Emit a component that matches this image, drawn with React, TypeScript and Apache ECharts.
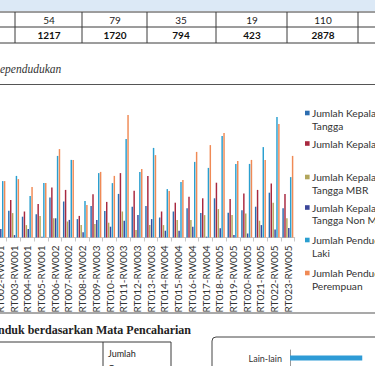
import React, { useEffect, useRef } from "react";
import * as echarts from "echarts";

const categories = [
  "RT001-RW001", "RT002-RW001", "RT003-RW001", "RT004-RW001", "RT005-RW001",
  "RT006-RW002", "RT007-RW002", "RT008-RW002",
  "RT009-RW003", "RT010-RW003", "RT011-RW003", "RT012-RW003", "RT013-RW003",
  "RT014-RW004", "RT015-RW004", "RT016-RW004", "RT017-RW004",
  "RT018-RW005", "RT019-RW005", "RT020-RW005", "RT021-RW005", "RT022-RW005", "RT023-RW005",
];

const kepalaRumahTangga = [81, 81, 67, 52, 58, 100, 90, 46, 79, 66, 109, 77, 79, 50, 65, 73, 61, 98, 62, 68, 77, 112, 73];
const kepalaKeluarga = [104, 106, 94, 65, 84, 125, 119, 54, 108, 89, 161, 117, 154, 65, 87, 102, 98, 137, 96, 110, 119, 135, 109];
const krtMBR = [39, 44, 61, 31, 54, 48, 40, 31, 34, 37, 65, 19, 31, 31, 44, 44, 56, 71, 56, 60, 42, 87, 48];
const krtNonMBR = [24, 21, 6, 21, 2, 48, 44, 13, 44, 27, 42, 56, 46, 17, 17, 27, 2, 23, 6, 10, 31, 20, 24];
const pendudukLaki = [144, 141, 154, 104, 136, 204, 194, 91, 161, 136, 246, 164, 224, 121, 139, 189, 174, 254, 184, 184, 226, 301, 151];
const pendudukPerempuan = [149, 141, 146, 126, 136, 221, 194, 81, 164, 154, 306, 171, 206, 116, 144, 214, 231, 261, 191, 194, 194, 284, 204];

const seriesNames = [
  "Jumlah Kepala Rumah Tangga",
  "Jumlah Kepala Keluarga",
  "Jumlah Kepala Rumah Tangga MBR",
  "Jumlah Kepala Rumah Tangga Non MBR",
  "Jumlah Penduduk Laki-Laki",
  "Jumlah Penduduk Perempuan",
];
const legendLines = [
  ["Jumlah Kepala Rumah", "Tangga"],
  ["Jumlah Kepala Keluarga"],
  ["Jumlah Kepala Rumah", "Tangga MBR"],
  ["Jumlah Kepala Rumah", "Tangga Non MBR"],
  ["Jumlah Penduduk Laki-", "Laki"],
  ["Jumlah Penduduk", "Perempuan"],
];
const seriesColors = ["#2c6db0", "#a8283f", "#b2a65c", "#3b4699", "#2a9fd0", "#f08a55"];

const tableRow1 = [54, 79, 35, 19, 110];
const tableRow2 = [1217, 1720, 794, 423, 2878];

const occupationCategories = ["Lain-lain"];
const occupationValues = [850];

// the chart canvas starts 21px left of the visible page (first category is off-page)
const OX = 21;

export default function App() {
  const ref = useRef<HTMLDivElement>(null);

  useEffect(() => {
    if (!ref.current) return;
    const chart = echarts.init(ref.current, undefined, { renderer: "svg" });
    const seriesData = [kepalaRumahTangga, kepalaKeluarga, krtMBR, krtNonMBR, pendudukLaki, pendudukPerempuan];

    const g: any[] = [];
    const lineStroke = "#3a3a3a";
    g.push({ type: "rect", silent: true, shape: { x: 0, y: 0, width: 375 + OX, height: 11 }, style: { fill: "#dce9f6" } });
    [12, 27, 43].forEach((y) =>
      g.push({ type: "line", silent: true, shape: { x1: 0, y1: y, x2: 375 + OX, y2: y }, style: { stroke: lineStroke, lineWidth: 1 } })
    );
    [15, 82, 147, 216, 287, 358].forEach((x) =>
      g.push({ type: "line", silent: true, shape: { x1: x + OX, y1: 12, x2: x + OX, y2: 43 }, style: { stroke: lineStroke, lineWidth: 1 } })
    );
    const colX = [49, 115, 181, 252, 323];
    tableRow1.forEach((v, i) =>
      g.push({
        type: "text", silent: true, x: colX[i] + OX, y: 19.5,
        style: { text: String(v), fontSize: 10, fontFamily: "Lato", fill: "#222", align: "center", verticalAlign: "middle" },
      })
    );
    tableRow2.forEach((v, i) =>
      g.push({
        type: "text", silent: true, x: colX[i] + OX, y: 35,
        style: { text: String(v), fontSize: 10, fontWeight: "bold", fontFamily: "Lato", fill: "#111", align: "center", verticalAlign: "middle" },
      })
    );
    g.push({
      type: "text", silent: true, x: OX, y: 69,
      style: { text: "ependudukan", fontSize: 11.5, fontStyle: "italic", fontFamily: "Liberation Serif", fill: "#333", align: "left", verticalAlign: "middle" },
    });
    g.push({ type: "line", silent: true, shape: { x1: 0, y1: 84.5, x2: 375 + OX, y2: 84.5 }, style: { stroke: "#555", lineWidth: 1.2 } });
    g.push({ type: "line", silent: true, shape: { x1: 0, y1: 313, x2: 375 + OX, y2: 313 }, style: { stroke: "#555", lineWidth: 1.2 } });
    const legendY = [113, 143.5, 177, 207.5, 240, 273];
    legendLines.forEach((lines, i) => {
      g.push({ type: "rect", silent: true, shape: { x: 305 + OX, y: legendY[i] - 2.3, width: 4.6, height: 4.6 }, style: { fill: seriesColors[i] } });
      lines.forEach((t, j) =>
        g.push({
          type: "text", silent: true, x: 312 + OX, y: legendY[i] + j * 12.5,
          style: { text: t, fontSize: 10.2, fontFamily: "Lato", fill: "#333", align: "left", verticalAlign: "middle" },
        })
      );
    });
    g.push({
      type: "text", silent: true, x: OX - 2, y: 330,
      style: { text: "nduk berdasarkan Mata Pencaharian", fontSize: 12, fontWeight: "bold", fontFamily: "Liberation Serif", fill: "#222", align: "left", verticalAlign: "middle" },
    });
    g.push({ type: "line", silent: true, shape: { x1: 0, y1: 342, x2: 171 + OX, y2: 342 }, style: { stroke: lineStroke, lineWidth: 1 } });
    [103, 171].forEach((x) =>
      g.push({ type: "line", silent: true, shape: { x1: x + OX, y1: 342, x2: x + OX, y2: 366 }, style: { stroke: lineStroke, lineWidth: 1 } })
    );
    g.push({
      type: "text", silent: true, x: 108 + OX, y: 353,
      style: { text: "Jumlah", fontSize: 9, fontFamily: "Lato", fill: "#222", align: "left", verticalAlign: "middle" },
    });
    g.push({
      type: "text", silent: true, x: 108 + OX, y: 368,
      style: { text: "Orang", fontSize: 9, fontFamily: "Lato", fill: "#222", align: "left", verticalAlign: "middle" },
    });
    g.push({
      type: "rect", silent: true, shape: { x: 212 + OX, y: 337, width: 200, height: 60, r: 4 },
      style: { fill: "none", stroke: "#444", lineWidth: 1 },
    });

    const option: any = {
      animation: false,
      backgroundColor: "#ffffff",
      graphic: g,
      grid: [
        { left: OX - 20.7, top: 97.5, width: 315.4, height: 140 },
        { left: 290 + OX, top: 350, width: 85, height: 16 },
      ],
      xAxis: [
        {
          type: "category", gridIndex: 0, data: categories,
          axisLine: { show: true, lineStyle: { color: "#c8c8c8" } },
          axisTick: { show: true, length: 4, lineStyle: { color: "#c8c8c8" } },
          axisLabel: { interval: 0, rotate: 90, fontSize: 10, fontFamily: "Lato", color: "#333", margin: 8 },
        },
        { type: "value", gridIndex: 1, min: 0, max: 1000, show: false },
      ],
      yAxis: [
        { type: "value", gridIndex: 0, min: 0, max: 350, show: false },
        {
          type: "category", gridIndex: 1, data: occupationCategories,
          axisLine: { show: true, lineStyle: { color: "#999" } },
          axisTick: { show: false },
          axisLabel: { fontSize: 9, fontFamily: "Lato", color: "#333", margin: 8 },
        },
      ],
      series: [
        ...seriesNames.map((name, i) => ({
          name, type: "bar", xAxisIndex: 0, yAxisIndex: 0,
          data: seriesData[i], barGap: "30%", barCategoryGap: "20%",
          itemStyle: { color: seriesColors[i] },
        })),
        {
          name: "Mata Pencaharian", type: "bar", xAxisIndex: 1, yAxisIndex: 1,
          data: occupationValues, barWidth: 5, itemStyle: { color: "#2e9bd6" },
        },
      ],
    };
    chart.setOption(option);
    return () => chart.dispose();
  }, []);

  return (
    <div
      ref={ref}
      style={{ position: "absolute", left: -OX, top: 0, width: 375 + OX, height: 366, overflow: "hidden", background: "#fff" }}
    />
  );
}
